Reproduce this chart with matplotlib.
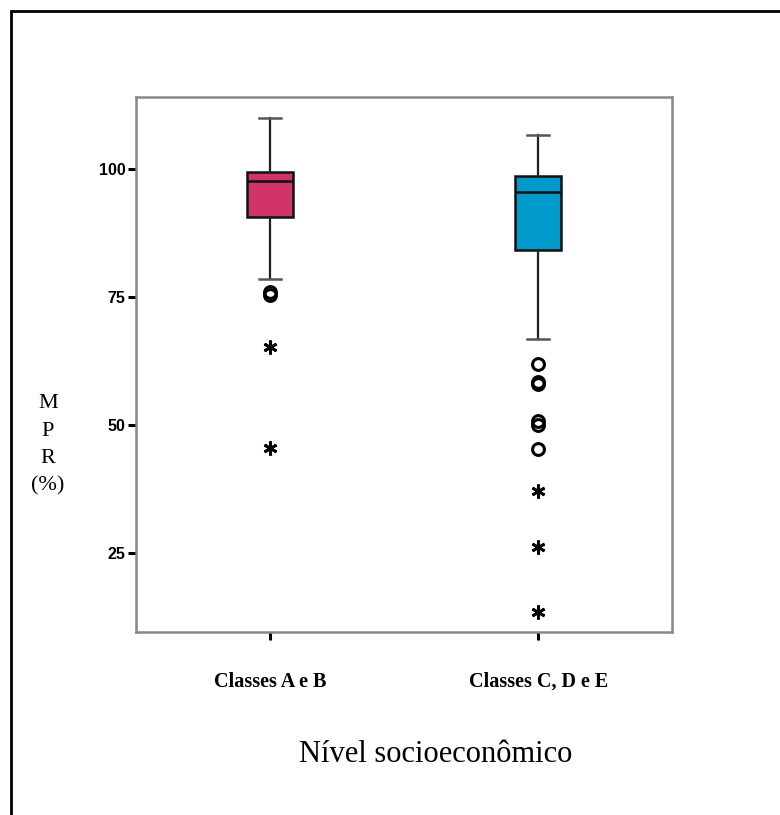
"""Boxplot of MPR (%) by socioeconomic level."""

import matplotlib

matplotlib.use("Agg")
import matplotlib.pyplot as plt
from matplotlib.patches import Rectangle

# values
categories = ["Classes A e B", "Classes C, D e E"]
box_colors = ["#d03468", "#0099cc"]
whisker_hi = [110.0, 106.8]
q3 = [99.5, 98.6]
median = [97.7, 95.6]
q1 = [90.7, 84.2]
whisker_lo = [78.5, 66.7]
# outliers (circles) and extremes (asterisks)
outliers_ab = [76.0, 75.5]
outliers_cde = [61.9, 58.4, 57.9, 50.8, 49.9, 45.3]
extremes_ab = [65.2, 45.5]
extremes_cde = [37.1, 26.0, 13.3]
y_ticks = [25, 50, 75, 100]

outliers = [outliers_ab, outliers_cde]
extremes = [extremes_ab, extremes_cde]

W, H = 780, 815
fig = plt.figure(figsize=(W / 100, H / 100), dpi=100)
ax = fig.add_axes([135.7 / W, 1 - 631.7 / H, (672.3 - 135.7) / W, (631.7 - 97.3) / H])

stats = []
for i, name in enumerate(categories):
    stats.append(
        dict(
            label=name,
            med=median[i],
            q1=q1[i],
            q3=q3[i],
            whislo=whisker_lo[i],
            whishi=whisker_hi[i],
            fliers=outliers[i],
        )
    )

bp = ax.bxp(
    stats,
    positions=[1, 2],
    widths=0.174,
    capwidths=0.08,
    patch_artist=True,
    boxprops=dict(edgecolor="#111111", linewidth=1.8),
    medianprops=dict(color="#111111", linewidth=1.8),
    whiskerprops=dict(color="#222222", linewidth=1.6),
    capprops=dict(color="#555555", linewidth=1.8),
    flierprops=dict(
        marker="o",
        markersize=8.5,
        markerfacecolor="none",
        markeredgecolor="black",
        markeredgewidth=2.2,
    ),
)
for patch, c in zip(bp["boxes"], box_colors):
    patch.set_facecolor(c)

for pos, vals in zip([1, 2], extremes):
    ax.plot(
        [pos] * len(vals),
        vals,
        linestyle="none",
        marker=(6, 2, 0),
        markersize=10,
        markeredgewidth=2.0,
        color="black",
    )

ax.set_xlim(0.5, 2.5)
ax.set_ylim(9.5, 114.1)
ax.set_yticks(y_ticks)
ax.set_yticklabels(
    [str(t) for t in y_ticks],
    fontsize=11.5,
    fontweight="bold",
    family="Liberation Sans",
)
ax.set_xticks([1, 2])
ax.set_xticklabels(categories, fontsize=14.5, fontweight="bold", family="Liberation Serif")
ax.tick_params(axis="y", length=6, width=2.2, pad=1.5, color="black")
ax.tick_params(axis="x", length=6, width=2.2, pad=23, color="black")

for sp in ax.spines.values():
    sp.set_color("#888888")
    sp.set_linewidth(1.8)

fig.text(
    436 / W,
    1 - 755 / H,
    "Nível socioeconômico",
    ha="center",
    va="center",
    fontsize=22,
    family="Liberation Serif",
)
fig.text(
    48 / W,
    1 - 445 / H,
    "M\nP\nR\n(%)",
    ha="center",
    va="center",
    multialignment="center",
    linespacing=1.6,
    fontsize=16,
    family="Liberation Serif",
)

# outer frame, open to the right and bottom as in the source scan
fig.patches.append(
    Rectangle(
        (11 / W, -0.1),
        1.2,
        1.1 - 11 / H,
        transform=fig.transFigure,
        fill=False,
        edgecolor="black",
        linewidth=2,
    )
)

fig.savefig("out.png", dpi=100)
